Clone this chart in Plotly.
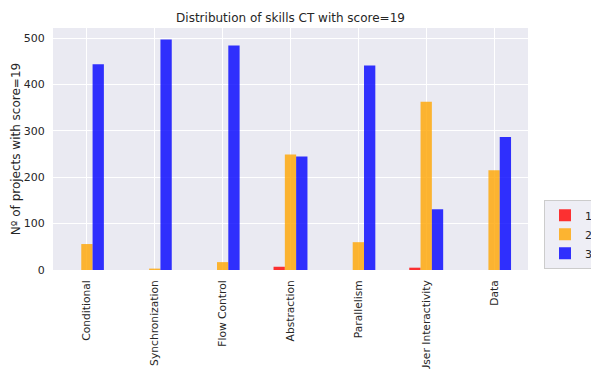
import plotly.graph_objects as go

categories = ["Conditional", "Synchronization", "Flow Control", "Abstraction",
              "Parallelism", "User Interactivity", "Data"]
score1 = [0, 0, 0, 7, 0, 5, 0]
score2 = [56, 3, 17, 249, 60, 363, 215]
score3 = [444, 497, 484, 245, 441, 131, 287]
series_names = ["1", "2", "3"]
colors = ["rgba(255,0,0,0.8)", "rgba(255,165,0,0.8)", "rgba(0,0,255,0.8)"]

fig = go.Figure()
for name, vals, col in zip(series_names, [score1, score2, score3], colors):
    fig.add_trace(go.Bar(x=categories, y=vals, name=name,
                         marker=dict(color=col, line=dict(width=0))))

font = "DejaVu Sans, sans-serif"
fig.update_layout(
    width=591, height=369,
    barmode="group", bargap=0.5, bargroupgap=0,
    plot_bgcolor="#eaeaf2", paper_bgcolor="white",
    margin=dict(l=53, r=63, t=28, b=99, autoexpand=False),
    font=dict(family=font, size=11, color="#262626"),
    title=dict(text="Distribution of skills CT with score=19", x=0.5, xref="paper",
               xanchor="center", y=1 - 18/369, yanchor="middle",
               font=dict(size=12, color="#262626")),
    legend=dict(x=(544-53)/475, y=0.005, xanchor="left", yanchor="bottom",
                bgcolor="rgba(234,234,242,0.8)", bordercolor="#cccccc", borderwidth=1,
                font=dict(size=11), tracegroupgap=0, itemwidth=30),
    showlegend=True,
)
fig.update_xaxes(showgrid=True, gridcolor="white", gridwidth=1, tickangle=-90,
                 ticks="outside", ticklen=5, tickcolor="rgba(0,0,0,0)",
                 showline=False, zeroline=False, range=[-0.5, 6.5],
                 tickfont=dict(size=10.7, color="#262626"))
fig.update_yaxes(showgrid=True, gridcolor="white", gridwidth=1, range=[0, 522],
                 tickvals=[0, 100, 200, 300, 400, 500],
                 ticks="outside", ticklen=5, tickcolor="rgba(0,0,0,0)",
                 zeroline=False, showline=False, tickfont=dict(size=11, color="#262626"),
                 title=dict(text="Nº of projects with score=19", font=dict(size=12, color="#262626"),
                            standoff=0))

fig.write_html("out.html", config={"displayModeBar": False},
               post_script="document.body.style.margin='0';document.body.style.overflow='hidden';")
